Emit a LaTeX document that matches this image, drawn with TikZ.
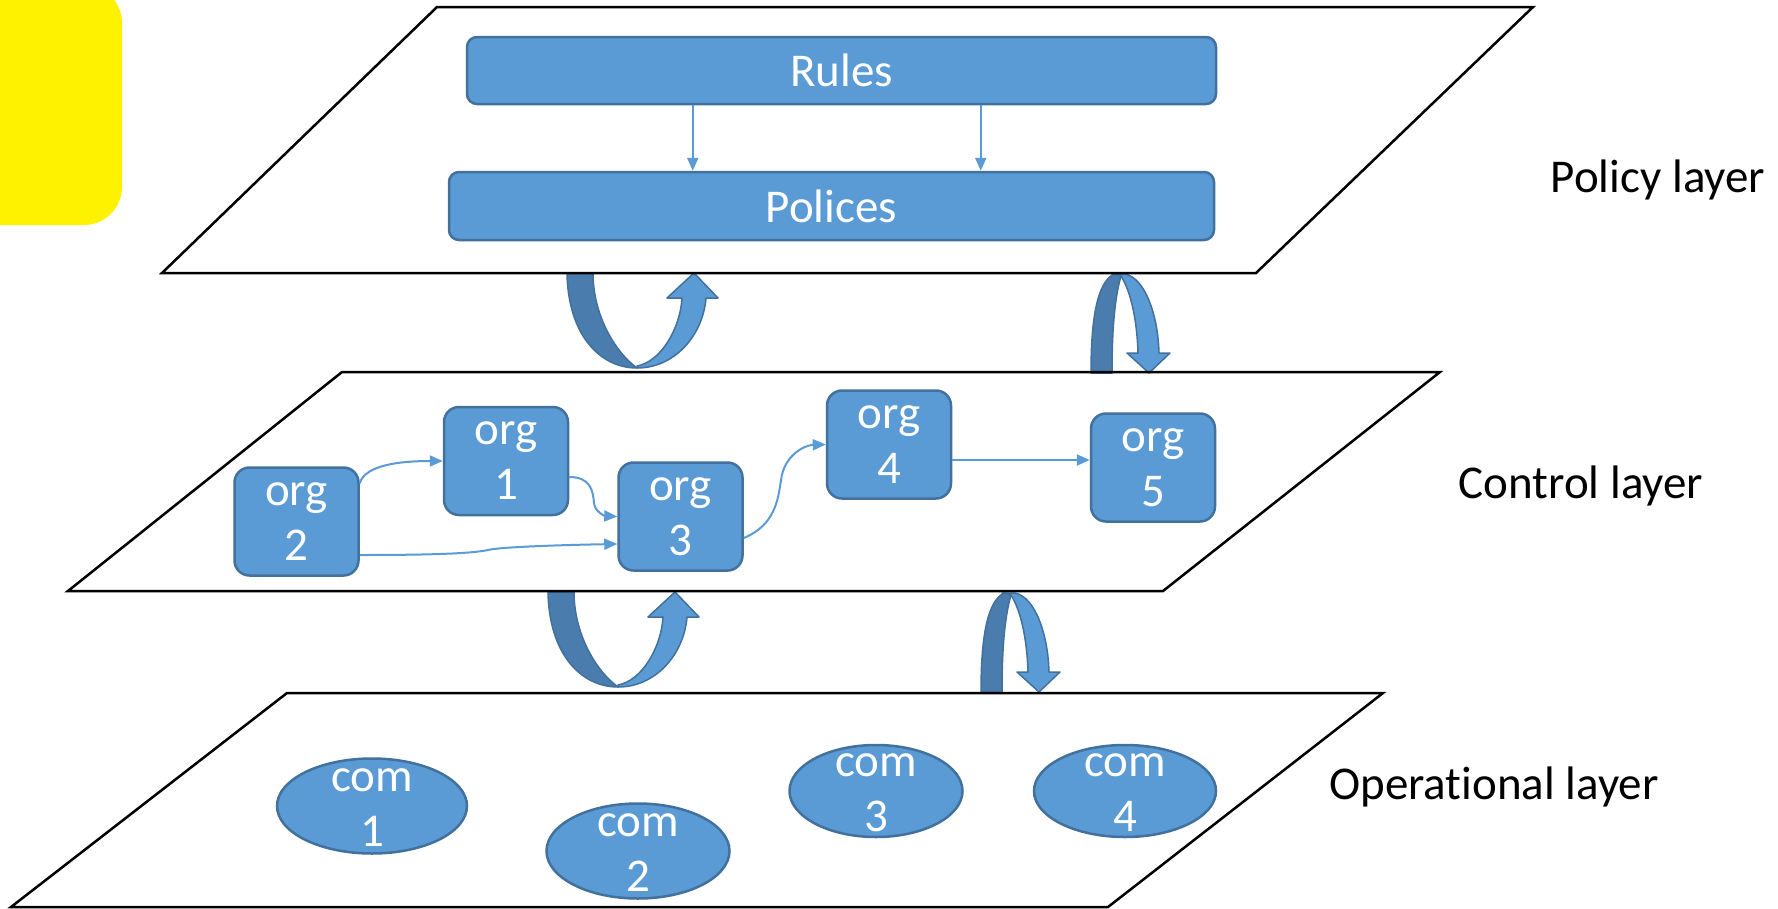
\documentclass[tikz,border=0pt]{standalone}
\usepackage{fontspec}
\setmainfont{Carlito}[Ligatures=NoCommon]
\usetikzlibrary{arrows.meta,shapes.geometric}
\definecolor{boxblue}{HTML}{5B9BD5}
\definecolor{boxedge}{HTML}{41719C}
\definecolor{darkband}{HTML}{4A7CAE}
\newcommand{\UArrowShape}{%
  \filldraw[fill=darkband,draw=boxedge,line width=1.5pt,line join=round]
    (567,273) .. controls (568,335) and (600,368) .. (637,368)
    .. controls (615,352) and (593,315) .. (593,273) -- cycle;
  \filldraw[fill=boxblue,draw=boxedge,line width=1.5pt,line join=round]
    (637,368) .. controls (675,368) and (703,335) .. (706,298)
    -- (718,298) -- (694,273) -- (667,298) -- (682,298)
    .. controls (680,330) and (660,362) .. (637,366) -- cycle;}
\newcommand{\NArrowShape}{%
  \filldraw[fill=boxblue,draw=boxedge,line width=1.5pt,line join=round]
    (1112,274) -- (1125,274) .. controls (1145,278) and (1158,315) .. (1159,353)
    -- (1170,353) -- (1149,373) -- (1127,353) -- (1138,353)
    .. controls (1137,320) and (1131,292) .. (1121,276) -- cycle;
  \filldraw[fill=darkband,draw=boxedge,line width=1.5pt,line join=round]
    (1091,373) .. controls (1091,315) and (1098,282) .. (1114,274)
    -- (1121,276) .. controls (1114,300) and (1112,335) .. (1112,373) -- cycle;}
\begin{document}
\begin{tikzpicture}[x=1pt,y=-1pt,
  layer/.style={draw=black,line width=2.5pt,line join=miter},
  bigbox/.style={rectangle,rounded corners=10pt,fill=boxblue,draw=boxedge,line width=2.5pt,inner sep=0pt,text=white,font=\fontsize{47}{54}\selectfont},
  orgbox/.style={rectangle,rounded corners=15pt,fill=boxblue,draw=boxedge,line width=2.5pt,inner sep=0pt,minimum width=124pt,minimum height=108pt,text=white,align=center,font=\fontsize{47}{55}\selectfont},
  comell/.style={ellipse,fill=boxblue,draw=boxedge,line width=2.5pt,inner sep=0pt,minimum width=186pt,minimum height=94pt},
  comtxt/.style={text=white,align=center,inner sep=0pt,font=\fontsize{47}{55}\selectfont},
  conn/.style={draw=boxblue,line width=2pt,-{Triangle[length=13pt,width=11pt]}},
  layerlabel/.style={anchor=base,inner sep=0pt,font=\fontsize{47}{54}\selectfont}]
\useasboundingbox (0,0) rectangle (1778,908);
\fill[white] (0,0) rectangle (1778,908);
% yellow tab
\begin{scope}
  \clip (0,0) rectangle (1778,908);
  \fill[yellow,rounded corners=38pt] (-60,-15) rectangle (122,225);
\end{scope}
% curved arrows between layers
\UArrowShape
\begin{scope}[shift={(-19,319)}]\UArrowShape\end{scope}
\NArrowShape
\begin{scope}[shift={(-110,319)}]\NArrowShape\end{scope}
% layers
\draw[layer] (437,7) -- (1533,7) -- (1256,273) -- (162,273) -- cycle;
\draw[layer] (342,372) -- (1440,372) -- (1163,591) -- (68,591) -- cycle;
\draw[layer] (287,693) -- (1383,693) -- (1108,907) -- (11,907) -- cycle;
% policy layer
\node[bigbox,minimum width=749pt,minimum height=67pt] (rules) at (841.5,70.5) {Rules};
\node[bigbox,minimum width=765pt,minimum height=68pt] (polices) at (831.5,206) {Polices};
\draw[conn] ([xshift=227pt]rules.south west) -- ([xshift=245pt]polices.north west);
\draw[conn] ([xshift=515pt]rules.south west) -- ([xshift=533pt]polices.north west);
% control layer
\node[orgbox] (org2) at (296.5,521.5) {org\\2};
\node[orgbox] (org1) at (506,461) {org\\1};
\node[orgbox] (org3) at (680.5,516.5) {org\\3};
\node[orgbox] (org4) at (889,444.5) {org\\4};
\node[orgbox] (org5) at (1153,467.5) {org\\5};
\draw[conn] ([yshift=-17pt]org2.north east) .. controls (365,465) and (400,461) .. (org1.west);
\draw[conn] ([yshift=-16pt]org1.east) .. controls (590,477) and (593,490) .. (594,503)
  .. controls (595,512) and (605,516) .. (org3.west);
\draw[conn] ([yshift=-33.5pt]org2.east) .. controls (420,555) and (470,554) .. (488,550)
  .. controls (500,547) and (560,545) .. ([yshift=-27.5pt]org3.west);
\draw[conn] ([yshift=-21.5pt]org3.east) .. controls (775,525) and (778,500) .. (781,480)
  .. controls (784,455) and (805,445) .. (org4.west);
\draw[conn] ([yshift=-15.5pt]org4.east) -- ([yshift=7.5pt]org5.west);
% operational layer
\node[comell,minimum width=190pt,minimum height=95pt] (com1) at (372,806) {};
\node[comell,minimum width=183pt,minimum height=95pt] (com2) at (638,851) {};
\node[comell,minimum width=173pt,minimum height=92pt] (com3) at (876,791) {};
\node[comell,minimum width=182pt,minimum height=92pt] (com4) at (1125,791) {};
\node[comtxt] (com1t) at ([yshift=-2pt]com1.center) {com\\1};
\node[comtxt] (com2t) at ([yshift=-2pt]com2.center) {com\\2};
\node[comtxt] (com3t) at ([yshift=-2pt]com3.center) {com\\3};
\node[comtxt] (com4t) at ([yshift=-2pt]com4.center) {com\\4};
% layer labels
\node[layerlabel] (pl) at (1658,192) {Policy layer};
\node[layerlabel] (cl) at (1581,498) {Control layer};
\node[layerlabel] (ol) at (1494,799) {Operational layer};
\end{tikzpicture}
\end{document}
